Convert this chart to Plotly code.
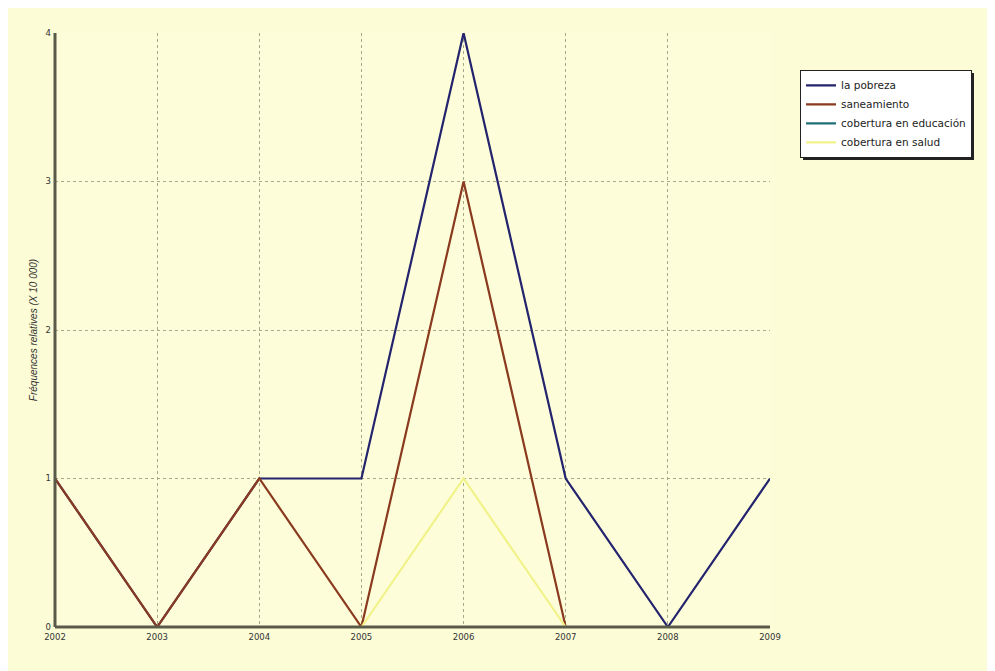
import plotly.graph_objects as go

years = [2002, 2003, 2004, 2005, 2006, 2007, 2008, 2009]
pobreza = [1, 0, 1, 1, 4, 1, 0, 1]
saneamiento = [1, 0, 1, 0, 3, 0, 0, 0]
educacion = [0, 0, 0, 0, 0, 0, 0, 0]
salud = [0, 0, 0, 0, 1, 0, 0, 0]

names = ["la pobreza", "saneamiento", "cobertura en educación", "cobertura en salud"]
series = [pobreza, saneamiento, educacion, salud]
colors = ["#23236e", "#8a3a1e", "#1f6f78", "#f2f28a"]

fig = go.Figure()
for n, s, c in zip(names, series, colors):
    fig.add_trace(go.Scatter(x=years, y=s, mode="lines", name=n,
                             line=dict(color=c, width=2.2)))

grid = "#a8a888"
axis_col = "#5a5a48"
fig.update_layout(
    width=995, height=671,
    margin=dict(l=47, r=233, t=25, b=52),
    paper_bgcolor="#fcfcd6",
    plot_bgcolor="#fdfdda",
    font=dict(family="DejaVu Sans, Verdana", size=8.5, color="#333333"),
    showlegend=True,
    legend=dict(x=1.042, y=0.938, xanchor="left", yanchor="top",
                bgcolor="#ffffff", bordercolor="#222222", borderwidth=1,
                font=dict(size=10.5, color="#222222"),
                itemwidth=30, tracegroupgap=0),
    xaxis=dict(range=[2002, 2009], tickvals=years, ticktext=[str(y) for y in years],
               showgrid=True, gridcolor=grid, griddash="dot", gridwidth=1,
               showline=False, ticks="", zeroline=False, ticklabelstandoff=3),
    yaxis=dict(range=[0, 4], tickvals=[0, 1, 2, 3, 4],
               showgrid=True, gridcolor=grid, griddash="dot", gridwidth=1,
               showline=False, ticks="", zeroline=False, ticklabelstandoff=3,
               title=dict(text="Fréquences relatives (X 10 000)",
                          font=dict(family="Liberation Sans, Arial", size=10,
                                    style="italic", color="#333333"),
                          standoff=6)),
)
# axis lines drawn above the traces (they cover the zero-valued series)
fig.add_shape(type="line", xref="paper", yref="paper", x0=0, x1=1, y0=0, y1=0,
              line=dict(color=axis_col, width=3), layer="above")
fig.add_shape(type="line", xref="paper", yref="paper", x0=0, x1=0, y0=0, y1=1,
              line=dict(color=axis_col, width=3), layer="above")
# legend shadow
fig.add_shape(type="rect", xref="paper", yref="paper",
              x0=1.0462, x1=1.2853, y0=0.786, y1=0.9327,
              fillcolor="#222222", line=dict(width=0), layer="below")
fig.write_html("out.html")
